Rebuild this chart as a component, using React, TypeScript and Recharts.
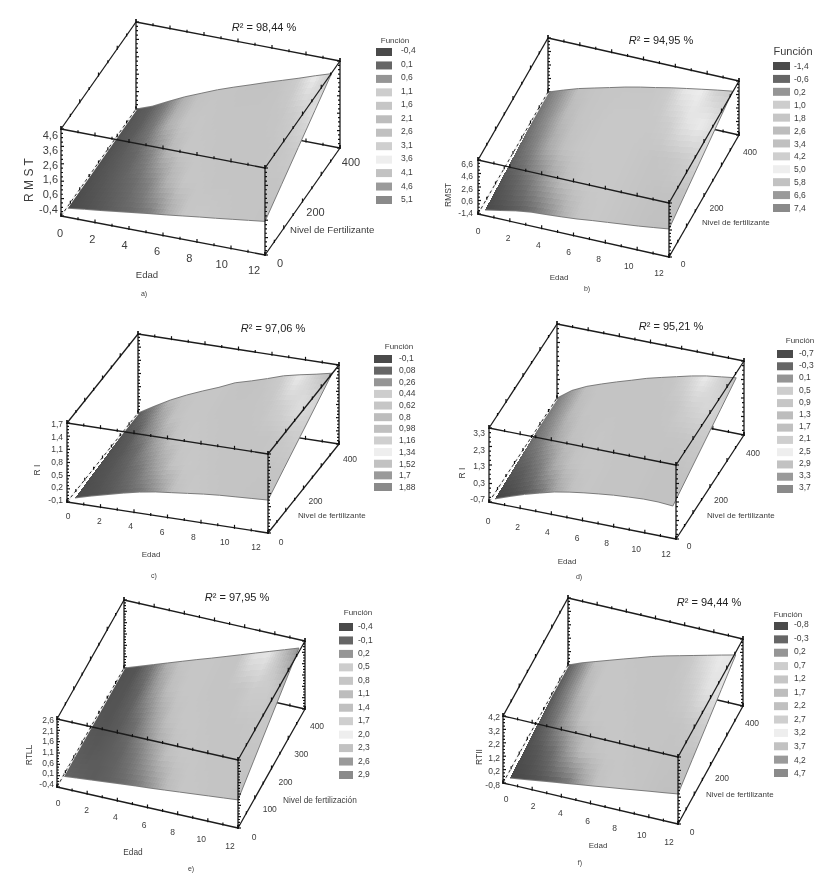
import { Scatter, ScatterChart, XAxis, YAxis } from "recharts";

const W = 829;
const H = 879;

// shared axes
const edadLabels = [0, 2, 4, 6, 8, 10, 12];
const edadMinor = [0, 1, 2, 3, 4, 5, 6, 7, 8, 9, 10, 11, 12];
const nivelRows = [0, 100, 200, 300, 400];
const nivelMinor = [0, 50, 100, 150, 200, 250, 300, 350, 400];
const nivelLabels = [0, 200, 400];
const nivelLabelsE = [0, 100, 200, 300, 400];

const legendGrays = [74, 102, 149, 205, 198, 189, 192, 207, 238, 194, 154, 138];

const funcionA = ["-0,4", "0,1", "0,6", "1,1", "1,6", "2,1", "2,6", "3,1", "3,6", "4,1", "4,6", "5,1"];
const funcionB = ["-1,4", "-0,6", "0,2", "1,0", "1,8", "2,6", "3,4", "4,2", "5,0", "5,8", "6,6", "7,4"];
const funcionC = ["-0,1", "0,08", "0,26", "0,44", "0,62", "0,8", "0,98", "1,16", "1,34", "1,52", "1,7", "1,88"];
const funcionD = ["-0,7", "-0,3", "0,1", "0,5", "0,9", "1,3", "1,7", "2,1", "2,5", "2,9", "3,3", "3,7"];
const funcionE = ["-0,4", "-0,1", "0,2", "0,5", "0,8", "1,1", "1,4", "1,7", "2,0", "2,3", "2,6", "2,9"];
const funcionF = ["-0,8", "-0,3", "0,2", "0,7", "1,2", "1,7", "2,2", "2,7", "3,2", "3,7", "4,2", "4,7"];

const zTicksA = [-0.4, 0.6, 1.6, 2.6, 3.6, 4.6];
const zTicksB = [-1.4, 0.6, 2.6, 4.6, 6.6];
const zTicksC = [-0.1, 0.2, 0.5, 0.8, 1.1, 1.4, 1.7];
const zTicksD = [-0.7, 0.3, 1.3, 2.3, 3.3];
const zTicksE = [-0.4, 0.1, 0.6, 1.1, 1.6, 2.1, 2.6];
const zTicksF = [-0.8, 0.2, 1.2, 2.2, 3.2, 4.2];

// surface height along Nivel = 0 and Nivel = max, one value per Edad step
const frontA = [0.12, 0.24, 0.35, 0.47, 0.59, 0.71, 0.82, 0.94, 1.06, 1.17, 1.29, 1.41, 1.53];
const backA = [-0.4, -0.06, 0.4, 0.84, 1.22, 1.6, 1.93, 2.24, 2.56, 2.86, 3.16, 3.48, 3.78];
const frontB = [-0.57, -0.14, 0.32, 0.64, 0.79, 0.96, 1.16, 1.44, 1.68, 1.92, 2.16, 2.45, 2.75];
const backB = [-1.4, -0.6, 0.14, 0.73, 1.31, 1.9, 2.41, 2.85, 3.33, 3.74, 4.14, 4.53, 4.88];
const frontC = [0.02, 0.12, 0.21, 0.3, 0.38, 0.44, 0.48, 0.52, 0.56, 0.59, 0.61, 0.63, 0.65];
const backC = [-0.1, 0.11, 0.31, 0.48, 0.63, 0.77, 0.93, 1.03, 1.14, 1.26, 1.34, 1.41, 1.49];
const frontD = [-0.47, -0.18, 0.09, 0.32, 0.54, 0.69, 0.81, 0.91, 1.0, 1.06, 1.11, 1.11, 1.05];
const backD = [-0.7, -0.13, 0.25, 0.54, 0.81, 1.06, 1.32, 1.53, 1.73, 1.93, 2.09, 2.2, 2.31];
const frontE = [0.13, 0.19, 0.25, 0.31, 0.37, 0.43, 0.48, 0.54, 0.6, 0.66, 0.72, 0.78, 0.84];
const backE = [-0.4, -0.18, 0.04, 0.26, 0.48, 0.7, 0.91, 1.13, 1.35, 1.57, 1.79, 2.01, 2.23];
const frontF = [-0.31, -0.17, -0.02, 0.13, 0.27, 0.42, 0.56, 0.71, 0.85, 1.0, 1.15, 1.29, 1.44];
const backF = [-0.8, -0.39, -0.05, 0.29, 0.63, 0.96, 1.3, 1.59, 1.85, 2.11, 2.37, 2.63, 2.88];

// gray: one row per nivelRows entry, one column per Edad step
const grayA = [
  [74, 80, 88, 98, 108, 126, 170, 198, 200, 198, 196, 196, 194],
  [78, 86, 96, 108, 132, 178, 198, 198, 196, 196, 196, 196, 196],
  [80, 90, 102, 132, 182, 198, 198, 196, 196, 196, 196, 198, 204],
  [82, 92, 120, 176, 196, 198, 196, 196, 196, 196, 198, 206, 224],
  [85, 96, 128, 176, 194, 196, 196, 194, 194, 196, 204, 236, 200],
];
const grayB = [
  [74, 82, 92, 110, 140, 176, 196, 200, 198, 196, 194, 192, 192],
  [84, 100, 124, 160, 188, 198, 200, 200, 198, 196, 194, 194, 194],
  [100, 128, 168, 192, 198, 200, 200, 200, 198, 196, 198, 204, 214],
  [112, 144, 184, 196, 198, 200, 200, 200, 200, 206, 226, 236, 220],
  [120, 152, 192, 196, 198, 198, 198, 198, 204, 232, 238, 208, 200],
];
const grayC = [
  [76, 80, 88, 100, 116, 150, 192, 200, 198, 196, 196, 194, 194],
  [78, 84, 96, 118, 160, 194, 200, 198, 196, 196, 196, 196, 196],
  [80, 88, 110, 160, 194, 200, 198, 196, 196, 196, 196, 200, 206],
  [82, 96, 150, 192, 198, 198, 196, 196, 196, 198, 208, 222, 214],
  [85, 130, 186, 196, 198, 198, 196, 194, 196, 204, 236, 206, 186],
];
const grayD = [
  [68, 76, 88, 112, 164, 192, 198, 196, 196, 196, 194, 194, 194],
  [84, 96, 124, 172, 194, 198, 198, 196, 196, 196, 194, 194, 194],
  [104, 128, 168, 192, 196, 198, 196, 196, 196, 196, 196, 198, 202],
  [116, 146, 186, 196, 196, 196, 196, 196, 196, 198, 208, 216, 208],
  [122, 156, 192, 196, 196, 196, 196, 196, 198, 212, 236, 212, 196],
];
const grayE = [
  [100, 96, 92, 96, 104, 120, 150, 186, 198, 198, 196, 196, 194],
  [92, 88, 92, 100, 122, 158, 190, 198, 198, 196, 196, 196, 196],
  [86, 84, 92, 112, 156, 190, 198, 198, 196, 196, 196, 198, 200],
  [82, 84, 100, 150, 188, 198, 198, 196, 196, 196, 204, 204, 190],
  [80, 85, 120, 176, 196, 198, 198, 196, 196, 226, 230, 190, 150],
];
const grayF = [
  [72, 76, 84, 96, 116, 160, 192, 198, 198, 196, 194, 192, 192],
  [78, 88, 108, 150, 186, 196, 198, 198, 196, 196, 194, 194, 194],
  [84, 112, 160, 192, 198, 198, 198, 196, 196, 196, 196, 200, 208],
  [88, 130, 182, 198, 198, 198, 196, 196, 196, 198, 206, 226, 228],
  [90, 136, 192, 198, 198, 196, 196, 196, 196, 202, 220, 234, 230],
];

type Pt = [number, number];
type Panel = {
  id: string;
  r2: string;
  mark: string;
  zName: string;
  nivelName: string;
  funcion: string[];
  zTicks: number[];
  nivelTicks: number[];
  front: number[];
  back: number[];
  gray: number[][];
  // projection of the box: corner and the three edge vectors
  origin: Pt;
  edadVec: Pt;
  nivelVec: Pt;
  zVec: Pt;
  // Edad range the surface covers along its front and back rows
  frontEdad: Pt;
  backEdad: Pt;
  // text placement
  titleAt: Pt;
  tickSize: number;
  nameSize: number;
  zNameSize: number;
  edadAt: [Pt, Pt];
  nivelAt: [Pt, Pt];
  zAt: [number, number, number];
  zNameAt: Pt;
  nivelNameAt: Pt;
  edadNameAt: Pt;
  markAt: Pt;
  legendTitleAt: Pt;
  legendTitleSize: number;
  swatchX: [number, number];
  swatchY: Pt;
  legendTextX: number;
  legendTextY: Pt;
};

const panels: Panel[] = [
  {
    id: "a", r2: "98,44", mark: "a)", zName: "R M S T", nivelName: "Nivel de Fertilizante",
    funcion: funcionA, zTicks: zTicksA, nivelTicks: nivelLabels, front: frontA, back: backA, gray: grayA,
    origin: [61, 216], edadVec: [204, 39], nivelVec: [75, -107], zVec: [0, -87],
    frontEdad: [0.4, 12], backEdad: [0, 11.5],
    titleAt: [264, 27], tickSize: 11, nameSize: 9.6, zNameSize: 12,
    edadAt: [[60, 233], [254, 270]], nivelAt: [[280, 263], [351, 162]], zAt: [58, 209, 135],
    zNameAt: [29, 180], nivelNameAt: [290, 230], edadNameAt: [147, 275], markAt: [144, 293],
    legendTitleAt: [395, 40], legendTitleSize: 8, swatchX: [376, 392], swatchY: [52, 200], legendTextX: 401, legendTextY: [50, 199],
  },
  {
    id: "b", r2: "94,95", mark: "b)", zName: "RMST", nivelName: "Nivel de fertilizante",
    funcion: funcionB, zTicks: zTicksB, nivelTicks: nivelLabels, front: frontB, back: backB, gray: grayB,
    origin: [478, 214], edadVec: [191, 43], nivelVec: [70, -122], zVec: [0, -54],
    frontEdad: [0.44, 12], backEdad: [0, 11.6],
    titleAt: [661, 40], tickSize: 8.5, nameSize: 8, zNameSize: 8.5,
    edadAt: [[478, 231], [659, 273]], nivelAt: [[683, 264], [750, 152]], zAt: [473, 213, 164],
    zNameAt: [448, 195], nivelNameAt: [702, 222], edadNameAt: [559, 277], markAt: [587, 288],
    legendTitleAt: [793, 51], legendTitleSize: 11, swatchX: [773, 790], swatchY: [66, 208], legendTextX: 794, legendTextY: [66, 208],
  },
  {
    id: "c", r2: "97,06", mark: "c)", zName: "R I", nivelName: "Nivel de fertilizante",
    funcion: funcionC, zTicks: zTicksC, nivelTicks: nivelLabels, front: frontC, back: backC, gray: grayC,
    origin: [67, 502], edadVec: [201, 31], nivelVec: [71, -89], zVec: [0, -79],
    frontEdad: [0.48, 12], backEdad: [0, 11.6],
    titleAt: [273, 328], tickSize: 8.5, nameSize: 8, zNameSize: 8.5,
    edadAt: [[68, 516], [256, 547]], nivelAt: [[281, 542], [350, 459]], zAt: [63, 500, 424],
    zNameAt: [37, 470], nivelNameAt: [298, 515], edadNameAt: [151, 554], markAt: [154, 575],
    legendTitleAt: [399, 346], legendTitleSize: 8, swatchX: [374, 392], swatchY: [359, 487], legendTextX: 399, legendTextY: [358, 487],
  },
  {
    id: "d", r2: "95,21", mark: "d)", zName: "R I", nivelName: "Nivel de fertilizante",
    funcion: funcionD, zTicks: zTicksD, nivelTicks: nivelLabels, front: frontD, back: backD, gray: grayD,
    origin: [489, 502], edadVec: [187, 37], nivelVec: [68, -104], zVec: [0, -74],
    frontEdad: [0.38, 11.8], backEdad: [0, 11.5],
    titleAt: [671, 326], tickSize: 8.5, nameSize: 8, zNameSize: 8.5,
    edadAt: [[488, 521], [666, 554]], nivelAt: [[689, 546], [753, 453]], zAt: [485, 499, 433],
    zNameAt: [462, 473], nivelNameAt: [707, 515], edadNameAt: [567, 561], markAt: [579, 576],
    legendTitleAt: [800, 340], legendTitleSize: 8, swatchX: [777, 793], swatchY: [354, 489], legendTextX: 799, legendTextY: [353, 487],
  },
  {
    id: "e", r2: "97,95", mark: "e)", zName: "RTLL", nivelName: "Nivel de fertilización",
    funcion: funcionE, zTicks: zTicksE, nivelTicks: nivelLabelsE, front: frontE, back: backE, gray: grayE,
    origin: [57, 787], edadVec: [181, 41], nivelVec: [67, -119], zVec: [0, -68],
    frontEdad: [0.33, 12], backEdad: [0, 11.6],
    titleAt: [237, 597], tickSize: 8.5, nameSize: 8.3, zNameSize: 8.5,
    edadAt: [[58, 803], [230, 846]], nivelAt: [[254, 837], [317, 726]], zAt: [54, 784, 720],
    zNameAt: [29, 755], nivelNameAt: [283, 800], edadNameAt: [133, 852], markAt: [191, 868],
    legendTitleAt: [358, 612], legendTitleSize: 8, swatchX: [339, 353], swatchY: [627, 775], legendTextX: 358, legendTextY: [626, 774],
  },
  {
    id: "f", r2: "94,44", mark: "f)", zName: "RTII", nivelName: "Nivel de fertilizante",
    funcion: funcionF, zTicks: zTicksF, nivelTicks: nivelLabels, front: frontF, back: backF, gray: grayF,
    origin: [503, 783], edadVec: [175, 41], nivelVec: [65, -118], zVec: [0, -67],
    frontEdad: [0.48, 12], backEdad: [0, 11.5],
    titleAt: [709, 602], tickSize: 8.5, nameSize: 8, zNameSize: 8.5,
    edadAt: [[506, 799], [669, 842]], nivelAt: [[692, 832], [752, 723]], zAt: [500, 785, 717],
    zNameAt: [479, 757], nivelNameAt: [706, 794], edadNameAt: [598, 845], markAt: [580, 862],
    legendTitleAt: [788, 614], legendTitleSize: 8, swatchX: [774, 788], swatchY: [626, 773], legendTextX: 794, legendTextY: [624, 773],
  },
];

const EDAD_MAX = 12;
const NIVEL_MAX = 400;
const CELL_STEPS = 6;

const mix = (a: number, b: number, t: number) => a + (b - a) * t;

function project(p: Panel, edad: number, nivel: number, z: number): Pt {
  const zMin = p.zTicks[0];
  const zMax = p.zTicks[p.zTicks.length - 1];
  const e = edad / EDAD_MAX;
  const n = nivel / NIVEL_MAX;
  const h = (z - zMin) / (zMax - zMin);
  return [
    p.origin[0] + p.edadVec[0] * e + p.nivelVec[0] * n + p.zVec[0] * h,
    p.origin[1] + p.edadVec[1] * e + p.nivelVec[1] * n + p.zVec[1] * h,
  ];
}

function surfaceNode(p: Panel, col: number, row: number): Pt {
  const n = nivelRows[row] / NIVEL_MAX;
  const start = mix(p.frontEdad[0], p.backEdad[0], n);
  const end = mix(p.frontEdad[1], p.backEdad[1], n);
  const edad = mix(start, end, col / EDAD_MAX);
  return project(p, edad, nivelRows[row], mix(p.front[col], p.back[col], n));
}

function surfaceCells(p: Panel) {
  const cells = [];
  for (let r = 0; r < nivelRows.length - 1; r++) {
    for (let c = 0; c < EDAD_MAX; c++) {
      const P00 = surfaceNode(p, c, r);
      const P10 = surfaceNode(p, c + 1, r);
      const P11 = surfaceNode(p, c + 1, r + 1);
      const P01 = surfaceNode(p, c, r + 1);
      cells.push({
        x: P00[0],
        y: P00[1],
        corners: [P00, P10, P11, P01].map((q) => [q[0] - P00[0], q[1] - P00[1]]),
        grays: [p.gray[r][c], p.gray[r][c + 1], p.gray[r + 1][c + 1], p.gray[r + 1][c]],
      });
    }
  }
  return cells;
}

function surfaceOutline(p: Panel) {
  const last = nivelRows.length - 1;
  const path: Pt[] = [];
  for (let c = 0; c <= EDAD_MAX; c++) path.push(surfaceNode(p, c, 0));
  for (let r = 1; r <= last; r++) path.push(surfaceNode(p, EDAD_MAX, r));
  for (let c = EDAD_MAX - 1; c >= 0; c--) path.push(surfaceNode(p, c, last));
  return path.map(([x, y]) => ({ x, y }));
}

const grayColor = (g: number) => {
  const v = Math.max(0, Math.min(255, Math.round(g)));
  return `rgb(${v},${v},${v})`;
};

const NoMark = () => <g />;

// a table cell, shaded in small facets between its four corner grays
function CellMark(props: any) {
  const { cx, cy, payload: d } = props;
  const [a, b, c, e] = d.corners;
  const [ga, gb, gc, ge] = d.grays;
  const spot = (u: number, v: number) => {
    const x = mix(mix(a[0], b[0], u), mix(e[0], c[0], u), v);
    const y = mix(mix(a[1], b[1], u), mix(e[1], c[1], u), v);
    return `${cx + x},${cy + y}`;
  };
  const facets = [];
  for (let i = 0; i < CELL_STEPS; i++) {
    for (let j = 0; j < CELL_STEPS; j++) {
      const u0 = i / CELL_STEPS;
      const u1 = (i + 1) / CELL_STEPS;
      const v0 = j / CELL_STEPS;
      const v1 = (j + 1) / CELL_STEPS;
      const um = (u0 + u1) / 2;
      const vm = (v0 + v1) / 2;
      facets.push(
        <polygon
          key={`${i}-${j}`}
          points={`${spot(u0, v0)} ${spot(u1, v0)} ${spot(u1, v1)} ${spot(u0, v1)}`}
          fill={grayColor(mix(mix(ga, gb, um), mix(ge, gc, um), vm))}
          shapeRendering="crispEdges"
        />,
      );
    }
  }
  return <g>{facets}</g>;
}

function TickMark(props: any) {
  const { cx, cy, payload: d } = props;
  return d.side ? (
    <line x1={cx} x2={cx + d.len} y1={cy} y2={cy} stroke="#111" strokeWidth={1.2} />
  ) : (
    <line x1={cx} x2={cx} y1={cy - d.len} y2={cy + 1} stroke="#111" strokeWidth={1.2} />
  );
}

function TextMark(props: any) {
  const { cx, cy, payload: d } = props;
  return (
    <text
      x={cx}
      y={cy}
      dy="0.36em"
      textAnchor={d.anchor ?? "middle"}
      fontFamily="'Liberation Sans', Arial, sans-serif"
      fontSize={d.size}
      fill={d.color ?? "#3c3c3c"}
      transform={d.rotate ? `rotate(-90 ${cx} ${cy})` : undefined}
    >
      {d.italic ? <tspan fontStyle="italic">{d.italic}</tspan> : null}
      {d.text}
    </text>
  );
}

function SwatchMark(props: any) {
  const { cx, cy, payload: d } = props;
  return <rect x={cx} y={cy - 4} width={d.w} height={8} fill={grayColor(d.gray)} />;
}

function boxEdges(p: Panel) {
  const zMin = p.zTicks[0];
  const zMax = p.zTicks[p.zTicks.length - 1];
  const E = EDAD_MAX;
  const N = NIVEL_MAX;
  const edge = (a: number[], b: number[]) => [a, b].map(([e, n, z]) => {
    const [x, y] = project(p, e, n, z);
    return { x, y };
  });
  return {
    behind: [
      edge([0, N, zMin], [0, N, zMax]),
      edge([0, N, zMin], [E, N, zMin]),
      edge([E, N, zMin], [E, N, zMax]),
    ],
    left: edge([0, 0, zMin], [0, N, zMin]),
    above: [
      edge([0, 0, zMin], [E, 0, zMin]),
      edge([E, 0, zMin], [E, N, zMin]),
      edge([0, 0, zMin], [0, 0, zMax]),
      edge([E, 0, zMin], [E, 0, zMax]),
      edge([0, 0, zMax], [E, 0, zMax]),
      edge([E, 0, zMax], [E, N, zMax]),
      edge([E, N, zMax], [0, N, zMax]),
      edge([0, N, zMax], [0, 0, zMax]),
    ],
  };
}

function boxTicks(p: Panel) {
  const zMin = p.zTicks[0];
  const zMax = p.zTicks[p.zTicks.length - 1];
  const N = NIVEL_MAX;
  const E = EDAD_MAX;
  const zStep = (p.zTicks[1] - p.zTicks[0]) / 4;
  const zMinor: number[] = [];
  for (let z = zMin; z <= zMax + 1e-6; z += zStep) zMinor.push(z);

  const behind: any[] = [];
  const above: any[] = [];
  const put = (list: any[], q: Pt, side: boolean, len: number) =>
    list.push({ x: q[0], y: q[1], side, len });

  zMinor.forEach((z, i) => {
    const len = i % 4 === 0 ? 3 : 2;
    put(behind, project(p, 0, N, z), true, len);
    put(above, project(p, 0, 0, z), true, len);
    put(above, project(p, E, 0, z), true, len);
    put(above, project(p, E, N, z), true, -len);
  });
  edadMinor.forEach((e, i) => {
    const len = i % 2 === 0 ? 3 : 2;
    put(behind, project(p, e, N, zMin), false, len);
    put(above, project(p, e, 0, zMin), false, len);
    put(above, project(p, e, 0, zMax), false, len);
    put(above, project(p, e, N, zMax), false, len);
  });
  nivelMinor.forEach((n, i) => {
    const len = i % 2 === 0 ? 3 : 2;
    put(above, project(p, 0, n, zMin), false, 2);
    put(above, project(p, E, n, zMin), false, len);
    put(above, project(p, 0, n, zMax), false, len);
    put(above, project(p, E, n, zMax), false, len);
  });
  return { behind, above };
}

function panelTexts(p: Panel) {
  const out: any[] = [];
  const add = (at: Pt, text: string, size: number, extra: object = {}) =>
    out.push({ x: at[0], y: at[1], text, size, ...extra });

  add(p.titleAt, "² = " + p.r2 + " %", 11, { italic: "R", color: "#222" });
  edadLabels.forEach((e) => {
    const t = e / EDAD_MAX;
    add([mix(p.edadAt[0][0], p.edadAt[1][0], t), mix(p.edadAt[0][1], p.edadAt[1][1], t)], String(e), p.tickSize);
  });
  p.nivelTicks.forEach((n) => {
    const t = n / NIVEL_MAX;
    add([mix(p.nivelAt[0][0], p.nivelAt[1][0], t), mix(p.nivelAt[0][1], p.nivelAt[1][1], t)], String(n), p.tickSize);
  });
  p.zTicks.forEach((z, i) => {
    const t = i / (p.zTicks.length - 1);
    add([p.zAt[0], mix(p.zAt[1], p.zAt[2], t)], z.toFixed(1).replace(".", ","), p.tickSize, { anchor: "end" });
  });
  add(p.zNameAt, p.zName, p.zNameSize, { rotate: true });
  add(p.nivelNameAt, p.nivelName, p.nameSize, { anchor: "start" });
  add(p.edadNameAt, "Edad", p.nameSize);
  add(p.markAt, p.mark, 7);
  add(p.legendTitleAt, "Función", p.legendTitleSize);
  p.funcion.forEach((label, i) => {
    const t = i / (p.funcion.length - 1);
    add([p.legendTextX, mix(p.legendTextY[0], p.legendTextY[1], t)], label, 8.5, { anchor: "start" });
  });
  return out;
}

function panelSwatches(p: Panel) {
  return legendGrays.map((gray, i) => ({
    x: p.swatchX[0],
    y: mix(p.swatchY[0], p.swatchY[1], i / (legendGrays.length - 1)),
    w: p.swatchX[1] - p.swatchX[0],
    gray,
  }));
}

function lineScatter(key: string, data: any[], style: object = { stroke: "#1c1c1c", strokeWidth: 1.3 }) {
  return (
    <Scatter
      key={key}
      data={data}
      line={style}
      lineJointType="linear"
      shape={NoMark}
      isAnimationActive={false}
    />
  );
}

function panelMarks(p: Panel) {
  const edges = boxEdges(p);
  const ticks = boxTicks(p);
  return [
    ...edges.behind.map((d, i) => lineScatter(`${p.id}-behind-${i}`, d)),
    <Scatter key={`${p.id}-ticks-behind`} data={ticks.behind} shape={TickMark} isAnimationActive={false} />,
    <Scatter key={`${p.id}-surface`} data={surfaceCells(p)} shape={CellMark} isAnimationActive={false} />,
    lineScatter(`${p.id}-outline`, surfaceOutline(p), { stroke: "#7c7c7c", strokeWidth: 1 }),
    lineScatter(`${p.id}-left-halo`, edges.left, { stroke: "#f4f4f4", strokeWidth: 2.2 }),
    lineScatter(`${p.id}-left`, edges.left, { stroke: "#2a2a2a", strokeWidth: 1, strokeDasharray: "3 3" }),
    ...edges.above.map((d, i) => lineScatter(`${p.id}-above-${i}`, d)),
    <Scatter key={`${p.id}-ticks-above`} data={ticks.above} shape={TickMark} isAnimationActive={false} />,
    <Scatter key={`${p.id}-swatches`} data={panelSwatches(p)} shape={SwatchMark} isAnimationActive={false} />,
    <Scatter key={`${p.id}-texts`} data={panelTexts(p)} shape={TextMark} isAnimationActive={false} />,
  ];
}

export default function App() {
  return (
    <div style={{ position: "absolute", left: 0, top: 0, width: W, height: H, filter: "blur(0.45px)" }}>
      <ScatterChart width={W} height={H} margin={{ top: 0, right: 0, bottom: 0, left: 0 }}>
        <XAxis type="number" dataKey="x" domain={[0, W]} hide />
        <YAxis type="number" dataKey="y" domain={[0, H]} reversed hide />
        {panels.flatMap(panelMarks)}
      </ScatterChart>
    </div>
  );
}
